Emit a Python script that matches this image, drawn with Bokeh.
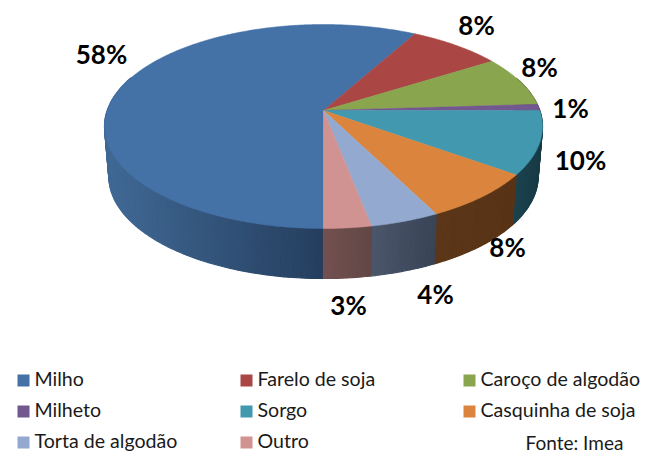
import math
from bokeh.plotting import figure
from bokeh.embed import file_html
from bokeh.resources import INLINE
from bokeh.core.properties import value
from bokeh.models import Range1d

categories = ["Milho", "Farelo de soja", "Caroço de algodão", "Milheto", "Sorgo",
              "Casquinha de soja", "Torta de algodão", "Outro"]
shares = [58, 8, 8, 1, 10, 7.6, 4.4, 3]
colors = ["#4471A6", "#AA4643", "#89A54E", "#71588F", "#4198AF", "#DB843D", "#93A9CF", "#D19392"]
wall_left = ["#406894", "#6b3a38", "#5a6d33", "#4a3a5e", "#1b424e", "#5c3618", "#4b566b", "#735150"]
wall_right = ["#253e5e", "#6b3a38", "#5a6d33", "#4a3a5e", "#183a45", "#583316", "#384356", "#614746"]
source_note = "Fonte: Imea"

label_pos = [(101, 53.5), (476, 24.5), (539, 66.5), (570, 107.5), (580, 159.5), (507, 246.5), (435, 293.5), (348, 304.5)]
CX, CY = 323, 110
K, A, B = 0.1569, 216.3, 99.5
DEPTH, BOTTOM_X = 50, 0.98


def hexrgb(c):
    return [int(c[i:i + 2], 16) for i in (1, 3, 5)]


def mix(c1, c2, t):
    a, b = hexrgb(c1), hexrgb(c2)
    return "#%02x%02x%02x" % tuple(round(a[i] + (b[i] - a[i]) * t) for i in range(3))


def rim(deg):
    u, v = math.sin(math.radians(deg)), math.cos(math.radians(deg))
    d = 1 + K * v
    return A * u / d, B * v / d


p = figure(width=645, height=454, x_range=Range1d(0, 645), y_range=Range1d(454, 0),
           output_backend="svg", toolbar_location=None, min_border=0)
p.axis.visible = False
p.grid.visible = False
p.outline_line_color = None

total = sum(shares)
start = 180.0
spans = []
for s in shares:
    end = start + s / total * 360
    spans.append((start, end))
    start = end

# side wall
wx, wy, wc = [], [], []
for i, (a, b) in enumerate(spans):
    n = max(2, int((b - a) / 1.0))
    pts = [a + (b - a) * j / n for j in range(n + 1)]
    xs_all = [rim(t)[0] for t in pts]
    lo, hi = min(xs_all), max(xs_all)
    for t0, t1 in zip(pts[:-1], pts[1:]):
        if math.cos(math.radians((t0 + t1) / 2)) > 0.35:
            continue
        x0, y0 = rim(t0)
        x1, y1 = rim(t1)
        wx.append([CX + x0, CX + x1, CX + BOTTOM_X * x1, CX + BOTTOM_X * x0])
        wy.append([CY - y0, CY - y1, CY - y1 + DEPTH, CY - y0 + DEPTH])
        # Milho's wall shades towards its darkest at the front
        if i == 0:
            f = min(1, max(0, ((x0 + x1) / 2 + 213) / 213))
        else:
            f = ((x0 + x1) / 2 - lo) / (hi - lo) if hi > lo else 0
        wc.append(mix(wall_left[i], wall_right[i], f))
p.patches(wx, wy, fill_color=wc, line_color=wc, line_width=1.2)

# top face
tx, ty = [], []
for a, b in spans:
    n = max(4, int((b - a) / 0.5))
    pts = [rim(a + (b - a) * j / n) for j in range(n + 1)]
    tx.append([CX] + [CX + q[0] for q in pts])
    ty.append([CY] + [CY - q[1] for q in pts])
p.patches(tx, ty, fill_color=colors, line_color=colors, line_width=0.5)

# percentage labels
p.text([q[0] for q in label_pos], [q[1] for q in label_pos], text=[f"{round(s)}%" for s in shares],
       text_font=value("Lato"), text_font_style="bold", text_font_size="26px",
       text_align="center", text_baseline="middle", text_color="#000000")

# legend
col_sq, col_tx = [17, 240, 463], [34, 257, 480]
row_y = [380, 411, 442]
lx, ly = [], []
for k in range(len(categories)):
    lx.append(col_sq[k % 3])
    ly.append(row_y[k // 3])
p.quad(left=lx, right=[x + 12 for x in lx], top=[y - 6 for y in ly], bottom=[y + 6 for y in ly],
       fill_color=colors, line_color=None)
p.text([col_tx[k % 3] for k in range(len(categories))], [y - 2 for y in ly], text=categories,
       text_font=value("Lato"), text_font_size="19.6px", text_align="left",
       text_baseline="middle", text_color="#1a1a1a")
p.text([525], [442], text=[source_note], text_font=value("Lato"), text_font_size="19px",
       text_align="left", text_baseline="middle", text_color="#1a1a1a")

open("out.html", "w").write(file_html(p, INLINE))
